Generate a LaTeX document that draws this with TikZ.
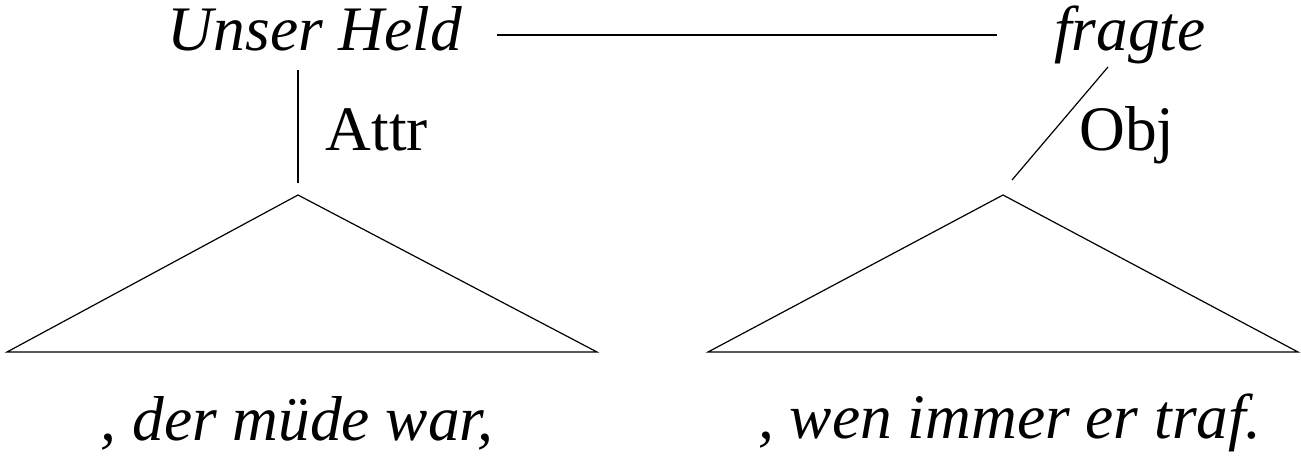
\documentclass[tikz,border=0pt]{standalone}
\usepackage{fontspec}
\setmainfont{Liberation Serif}
\begin{document}
\begin{tikzpicture}[x=0.5pt,y=-0.5pt,
  lbl/.style={font=\fontsize{31.7}{38}\selectfont, inner sep=0pt, anchor=base},
  it/.style={lbl, font=\fontsize{31.7}{38}\selectfont\itshape},
  ln/.style={line width=0.6pt}]
\useasboundingbox (0,0) rectangle (1301,462);
\node[it] (held) at (315,50) {Unser Held};
\node[it] (fragte) at (1130,50) {fragte};
\coordinate (hl1) at (497,35);
\coordinate (hl2) at (997,35);
\draw[ln] (hl1) -- (hl2);
% left tree
\coordinate (la) at (298,70);
\coordinate (lb) at (298,183);
\draw[ln] (la) -- (lb);
\node[lbl] (attr) at (377,150) {Attr};
\coordinate (lt) at (298,195);
\coordinate (ll) at (7,352);
\coordinate (lr) at (597,352);
\draw[ln] (ll) -- (lt) -- (lr) -- cycle;
\node[it] (ls) at (297,440) {, der müde war,};
% right tree
\coordinate (ra) at (1108,67);
\coordinate (rb) at (1012,180);
\draw[ln] (ra) -- (rb);
\node[lbl] (obj) at (1127,150) {Obj};
\coordinate (rt) at (1003,195);
\coordinate (rl) at (708,352);
\coordinate (rr) at (1298,352);
\draw[ln] (rl) -- (rt) -- (rr) -- cycle;
\node[it] (rs) at (1010,438) {, wen immer er traf.};
\end{tikzpicture}
\end{document}
